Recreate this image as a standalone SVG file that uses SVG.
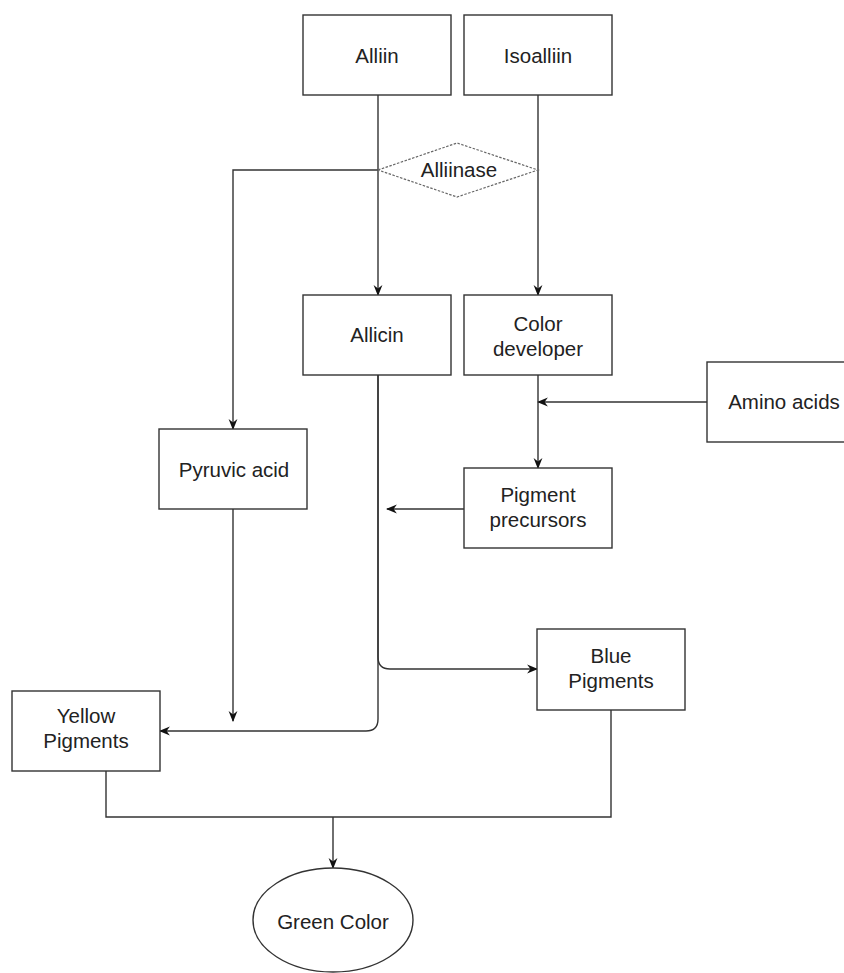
<svg xmlns="http://www.w3.org/2000/svg" width="844" height="973" viewBox="0 0 844 973">
<style>
.box{fill:#fff;stroke:#333;stroke-width:1.4}
.t{font-family:"Liberation Sans",Arial,sans-serif;font-size:20.5px;fill:#222;text-anchor:middle}
.e{fill:none;stroke:#333;stroke-width:1.4}
.dia{fill:#fff;stroke:#666;stroke-width:1.2;stroke-dasharray:2.5,1.5}
</style>
<defs>
<marker id="a" markerWidth="11" markerHeight="11" viewBox="0 0 10 10" refX="9" refY="5" orient="auto" markerUnits="userSpaceOnUse">
<path d="M0,1 L10,5 L0,9 L3,5 z" fill="#111"/>
</marker>
</defs>
<rect x="0" y="0" width="844" height="973" fill="#fff"/>
<g id="connectors">
<path class="e" d="M378,95 L378,295" marker-end="url(#a)"/>
<path class="e" d="M538,95 L538,295" marker-end="url(#a)"/>
<path class="e" d="M378,170 L233,170 L233,429" marker-end="url(#a)"/>
<path class="e" d="M707,402 L538,402" marker-end="url(#a)"/>
<path class="e" d="M538,375 L538,468" marker-end="url(#a)"/>
<path class="e" d="M464,509 L387,509" marker-end="url(#a)"/>
<path class="e" d="M233,509 L233,721" marker-end="url(#a)"/>
<path class="e" d="M378,375 L378,657 Q378,669 390,669 L537,669" marker-end="url(#a)"/>
<path class="e" d="M378,375 L378,719 Q378,731 366,731 L160,731" marker-end="url(#a)"/>
<path class="e" d="M106,771 L106,817 L611,817 L611,710"/>
<path class="e" d="M333,817 L333,868" marker-end="url(#a)"/>
</g>
<g id="alliin"><rect class="box" x="303" y="15" width="148" height="80"/><text class="t" x="377" y="63">Alliin</text></g>
<g id="isoalliin"><rect class="box" x="464" y="15" width="148" height="80"/><text class="t" x="538" y="63">Isoalliin</text></g>
<g id="alliinase"><polygon class="dia" points="378,170 457,143 538,170 457,197"/><text class="t" x="459" y="177">Alliinase</text></g>
<g id="allicin"><rect class="box" x="303" y="295" width="148" height="80"/><text class="t" x="377" y="342">Allicin</text></g>
<g id="color-developer"><rect class="box" x="464" y="295" width="148" height="80"/><text class="t" x="538" y="331">Color</text><text class="t" x="538" y="356">developer</text></g>
<g id="amino-acids"><rect class="box" x="707" y="362" width="148" height="80"/><text class="t" x="784" y="409">Amino acids</text></g>
<g id="pyruvic-acid"><rect class="box" x="159" y="429" width="148" height="80"/><text class="t" x="234" y="477">Pyruvic acid</text></g>
<g id="pigment-precursors"><rect class="box" x="464" y="468" width="148" height="80"/><text class="t" x="538" y="502">Pigment</text><text class="t" x="538" y="527">precursors</text></g>
<g id="blue-pigments"><rect class="box" x="537" y="629" width="148" height="81"/><text class="t" x="611" y="663">Blue</text><text class="t" x="611" y="688">Pigments</text></g>
<g id="yellow-pigments"><rect class="box" x="12" y="691" width="148" height="80"/><text class="t" x="86" y="723">Yellow</text><text class="t" x="86" y="748">Pigments</text></g>
<g id="green-color"><ellipse class="box" cx="333" cy="920" rx="80" ry="52"/><text class="t" x="333" y="929">Green Color</text></g>
</svg>
